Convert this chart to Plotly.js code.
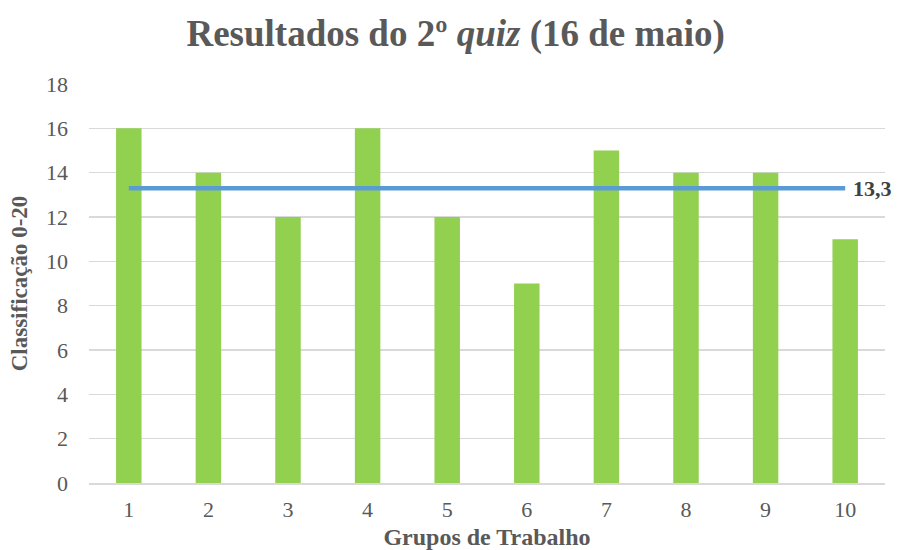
<!DOCTYPE html>
<html>
<head>
<meta charset="utf-8">
<script src="https://cdn.plot.ly/plotly-3.0.1.min.js"></script>
<style>html,body{margin:0;padding:0;background:#fff;}#chart{width:897px;height:550px;}</style>
</head>
<body>
<div id="chart"></div>
<script>
const groups = [1, 2, 3, 4, 5, 6, 7, 8, 9, 10];
const scores = [16, 14, 12, 16, 12, 9, 15, 14, 14, 11];
const averageValue = 13.3;
const averageLabel = "13,3";
const yTicks = [0, 2, 4, 6, 8, 10, 12, 14, 16, 18];

const font = "Liberation Serif";

const bars = {
  type: 'bar',
  x: groups,
  y: scores,
  width: 0.32,
  marker: {color: '#92D050'},
  hoverinfo: 'x+y'
};
const avgLine = {
  type: 'scatter',
  mode: 'lines',
  x: [groups[0], groups[groups.length - 1]],
  y: [averageValue, averageValue],
  line: {color: '#5B9BD5', width: 4.5}
};

const layout = {
  width: 897, height: 550,
  margin: {l: 89, r: 12, t: 84, b: 67},
  paper_bgcolor: '#fff', plot_bgcolor: '#fff',
  showlegend: false,
  font: {family: font, color: '#595959'},
  title: {
    text: 'Resultados do 2º <i>quiz</i> (16 de maio)',
    font: {family: font, size: 37, color: '#595959', weight: 'bold'},
    x: 0.508, xanchor: 'center', y: 0.94, yanchor: 'middle'
  },
  annotations: [{
    x: groups[groups.length - 1], y: averageValue, xref: 'x', yref: 'y',
    text: averageLabel, showarrow: false, xanchor: 'left', yanchor: 'middle',
    xshift: 6, font: {family: font, size: 22, color: '#404040', weight: 'bold'}
  }],
  xaxis: {
    tickmode: 'array', tickvals: groups, ticktext: groups.map(String),
    range: [0.5, 10.5],
    showgrid: false, zeroline: false,
    showline: true, linecolor: '#d9d9d9', linewidth: 1.5,
    ticks: 'outside', ticklen: 6, tickcolor: 'rgba(0,0,0,0)',
    tickfont: {family: font, size: 22, color: '#595959'},
    title: {text: 'Grupos de Trabalho', font: {family: font, size: 24, color: '#595959', weight: 'bold'}, standoff: 7}
  },
  yaxis: {
    range: [0, 18], tickmode: 'array', tickvals: yTicks,
    showgrid: true, gridcolor: '#d9d9d9', gridwidth: 1.5,
    zeroline: false, showline: false, ticks: '',
    ticklabelstandoff: 20,
    tickfont: {family: font, size: 22, color: '#595959'},
    title: {text: 'Classificação 0-20', font: {family: font, size: 23, color: '#595959', weight: 'bold'}, standoff: 11}
  }
};

Plotly.newPlot('chart', [bars, avgLine], layout, {displayModeBar: false, staticPlot: true});
</script>
</body>
</html>
